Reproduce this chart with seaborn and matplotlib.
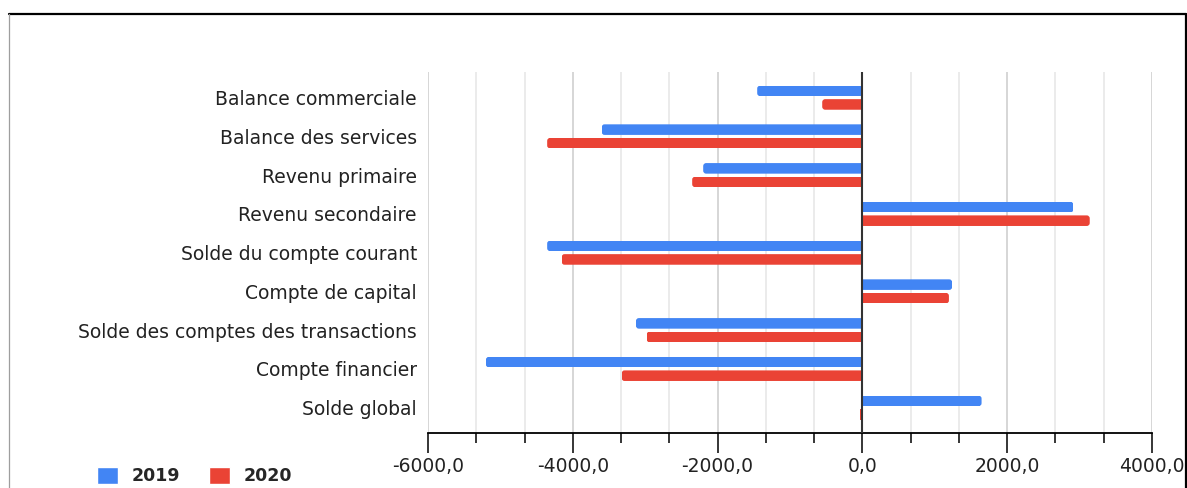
import matplotlib
matplotlib.use("Agg")
import matplotlib.pyplot as plt
import numpy as np
import pandas as pd
import seaborn as sns
from matplotlib.patches import FancyBboxPatch, Rectangle
from matplotlib.lines import Line2D
from matplotlib.ticker import MultipleLocator, FuncFormatter

# Balance des paiements (valeurs en millions)
categories = [
    "Balance commerciale",
    "Balance des services",
    "Revenu primaire",
    "Revenu secondaire",
    "Solde du compte courant",
    "Compte de capital",
    "Solde des comptes des transactions",
    "Compte financier",
    "Solde global",
]
years = ["2019", "2020"]
values_2019 = [-1453, -3602, -2199, 2915, -4354, 1240, -3128, -5200, 1646]
values_2020 = [-555, -4354, -2351, 3140, -4155, 1195, -2981, -3326, -15]
x_ticks = [-6000, -4000, -2000, 0, 2000, 4000]
palette = ["#4285F4", "#EA4335"]

df = pd.DataFrame({
    "poste": categories * 2,
    "annee": [years[0]] * len(categories) + [years[1]] * len(categories),
    "valeur": values_2019 + values_2020,
})

sns.set_style("white")
plt.rcParams["font.family"] = ["DejaVu Sans"]

W, H = 1187, 488
fig = plt.figure(figsize=(W / 100, H / 100), dpi=100)
ax_box = [428 / W, 1 - 433 / H, 724 / W, 361 / H]
ax = fig.add_axes(ax_box)

sns.barplot(
    data=df, x="valeur", y="poste", hue="annee",
    order=categories, hue_order=years, palette=palette,
    orient="h", width=0.70, gap=0.22, saturation=1, ax=ax,
)

xmin, xmax = x_ticks[0], x_ticks[-1]
ylim = (8.654, -0.662)
ax.set_xlim(xmin, xmax)
ax.set_ylim(*ylim)

# Rounded ends on the value side of every bar
ax_w_px = ax_box[2] * W
ax_h_px = ax_box[3] * H
rx = 3.0 * (xmax - xmin) / ax_w_px
ry = 3.0 * abs(ylim[0] - ylim[1]) / ax_h_px
min_len = 2.5 * (xmax - xmin) / ax_w_px
for bar in list(ax.patches):
    x0, y0 = bar.get_x(), bar.get_y()
    w, h = bar.get_width(), bar.get_height()
    left, right = min(x0, x0 + w), max(x0, x0 + w)
    length = right - left
    if length <= 0:
        bar.remove()
        continue
    if length < min_len:
        # keep very small values visible as a thin sliver
        bar.set_zorder(2)
        bar.set_edgecolor("none")
        bar.set_linewidth(0)
        bar.set_width(-min_len if x0 + w < 0 else min_len)
        continue
    r = min(rx, length / 2)
    if x0 + w < 0:
        bl, bw = left, length + r
    else:
        bl, bw = left - r, length + r
    fancy = FancyBboxPatch(
        (bl, y0), bw, h,
        boxstyle=f"round,pad=0,rounding_size={r}",
        mutation_aspect=ry / rx,
        facecolor=bar.get_facecolor(), edgecolor="none", zorder=2,
    )
    ax.add_patch(fancy)
    clip = Rectangle((left, y0), length, h, transform=ax.transData)
    fancy.set_clip_path(clip)
    bar.remove()

# Axis formatting
ax.set_xlabel("")
ax.set_ylabel("")
ax.set_xticks(x_ticks)
ax.xaxis.set_minor_locator(MultipleLocator(2000 / 3))


def fmt(v, _pos):
    if abs(v) < 1e-9:
        v = 0.0
    return f"{v:.1f}".replace(".", ",")


ax.xaxis.set_major_formatter(FuncFormatter(fmt))
ax.tick_params(axis="x", which="both", bottom=True, direction="out")
ax.tick_params(axis="x", which="major", length=14.4, width=1.1, color="black",
               pad=3, labelsize=13.5, labelcolor="#222222")
ax.tick_params(axis="x", which="minor", length=7.2, width=1.1, color="black")
ax.tick_params(axis="y", length=0, pad=8, labelsize=13.5, labelcolor="#222222")

ax.grid(True, axis="x", which="major", color="#cfcfcf", lw=1.2)
ax.grid(True, axis="x", which="minor", color="#e8e8e8", lw=1.2)
ax.grid(False, axis="y")
ax.set_axisbelow(True)

for side in ("left", "right", "top"):
    ax.spines[side].set_visible(False)
ax.spines["bottom"].set_color("black")
ax.spines["bottom"].set_linewidth(1.3)

ax.axvline(0, color="#333333", lw=1.5, zorder=3)

sns.move_legend(
    ax, "center left",
    bbox_to_anchor=(97 / W, 1 - 476 / H), bbox_transform=fig.transFigure,
    ncol=2, title=None, frameon=False,
    handlelength=1.2, handleheight=1.15, handletextpad=0.8,
    columnspacing=1.65, borderaxespad=0, borderpad=0,
    prop={"weight": "bold", "size": 12.5},
)

# Outer frame of the chart card
top_y = 1 - 14 / H
fig.add_artist(Line2D([9.5 / W, 1186 / W], [top_y, top_y], color="black",
                      lw=1.6, transform=fig.transFigure))
fig.add_artist(Line2D([1185.5 / W, 1185.5 / W], [top_y, 0], color="black",
                      lw=1.6, transform=fig.transFigure))
fig.add_artist(Line2D([9.5 / W, 9.5 / W], [top_y, 0], color="#9e9e9e",
                      lw=0.9, transform=fig.transFigure))

fig.savefig("out.png", dpi=100)
